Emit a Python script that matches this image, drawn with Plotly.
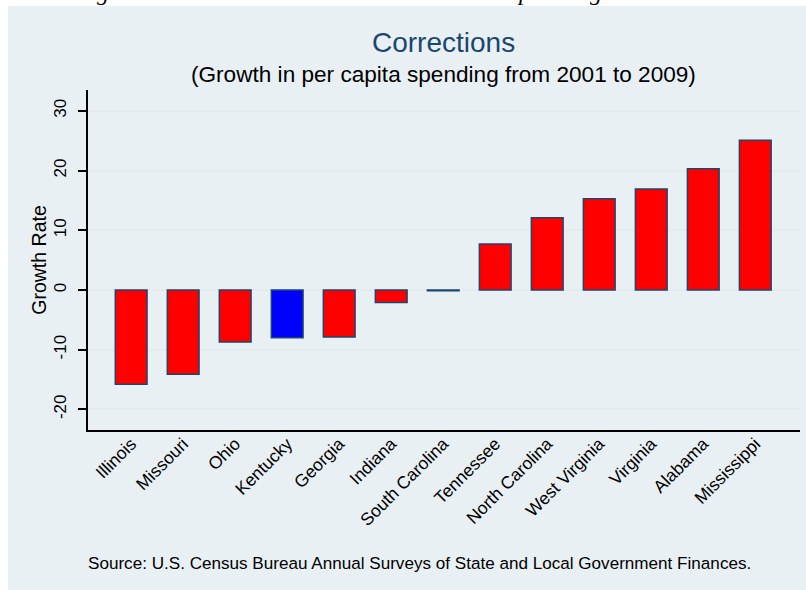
import plotly.graph_objects as go

# data
states = ['Illinois', 'Missouri', 'Ohio', 'Kentucky', 'Georgia', 'Indiana',
          'South Carolina', 'Tennessee', 'North Carolina', 'West Virginia',
          'Virginia', 'Alabama', 'Mississippi']
growth = [-15.8, -14.1, -8.7, -8.0, -7.9, -2.1, -0.15, 7.7, 12.1, 15.3, 16.9, 20.3, 25.1]
highlight = 'Kentucky'
y_ticks = [-20, -10, 0, 10, 20, 30]
y_tick_labels = ['-20', '-10', '0', '10', '20', '30']

bar_colors = ['#0000ff' if s == highlight else '#ff0000' for s in states]

BG = '#e9f0f3'
GRID = '#e3ebef'
NAVY = '#1a476f'
FONT = 'Liberation Sans, Arial, sans-serif'

fig = go.Figure()
fig.add_trace(go.Bar(
    x=states,
    y=growth,
    marker=dict(color=bar_colors, line=dict(color=NAVY, width=1.5)),
    showlegend=False,
))

# plot area is 88..800 px wide, 90..430 px tall
L, R, T, B = 88, 6, 90, 160
W, H = 806, 590
pw, ph = W - L - R, H - T - B

def px(x):
    return (x - L) / pw

def py(y):
    return (H - B - y) / ph

# light bluish page behind the graph
fig.add_shape(type='rect', xref='paper', yref='paper', layer='below',
              x0=px(8), x1=px(W), y0=py(6), y1=py(H),
              fillcolor=BG, line_width=0)

fig.update_layout(
    width=W, height=H,
    margin=dict(l=L, r=R, t=T, b=B, autoexpand=False),
    paper_bgcolor='white',
    plot_bgcolor='white',
    bargap=0.39,
    font=dict(family=FONT, color='black'),
    xaxis=dict(
        range=[-0.83, 12.86],
        tickangle=-45,
        tickfont=dict(size=17.5, color='black'),
        showgrid=False,
        showline=True, linecolor='black', linewidth=1.5,
        ticks='', ticklen=0,
        ticklabelstandoff=-5,
        automargin=False,
    ),
    yaxis=dict(
        range=[-23.46, 33.5],
        tickvals=y_ticks,
        ticktext=y_tick_labels,
        tickangle=-90,
        tickfont=dict(size=17, color='black'),
        showgrid=True, gridcolor=GRID, gridwidth=1.5,
        zeroline=False,
        showline=True, linecolor='black', linewidth=1.5,
        ticks='outside', ticklen=8, tickcolor='black', tickwidth=1.5,
        ticklabelstandoff=5,
        title=dict(text='Growth Rate', font=dict(size=19.5, color='black'), standoff=0),
        automargin=False,
    ),
)

annots = [
    dict(text='Corrections', x=px(443), y=py(42), font=dict(size=28, color=NAVY)),
    dict(text='(Growth in per capita spending from 2001 to 2009)', x=px(443), y=py(75),
         font=dict(size=22.6, color='black')),
]
for a in annots:
    fig.add_annotation(xref='paper', yref='paper', showarrow=False,
                       xanchor='center', yanchor='middle', **a)

fig.add_annotation(
    text='Source: U.S. Census Bureau Annual Surveys of State and Local Government Finances.',
    xref='paper', yref='paper', x=px(86), y=py(563), xanchor='left', yanchor='middle',
    showarrow=False, font=dict(size=17.1, color='black'),
)

# descenders of the text line cut off above the graph
for ch, xp in [('g', 103), ('p', 524), ('g', 596)]:
    fig.add_annotation(
        text='<i>' + ch + '</i>', xref='paper', yref='paper', x=px(xp), y=py(7),
        xanchor='center', yanchor='bottom', showarrow=False,
        font=dict(size=24, color='black', family='Liberation Serif, serif'),
    )

# page body margin would shift the figure by 8px
fig.write_html('out.html', config={'displayModeBar': False},
               post_script="document.body.style.margin='0';")
